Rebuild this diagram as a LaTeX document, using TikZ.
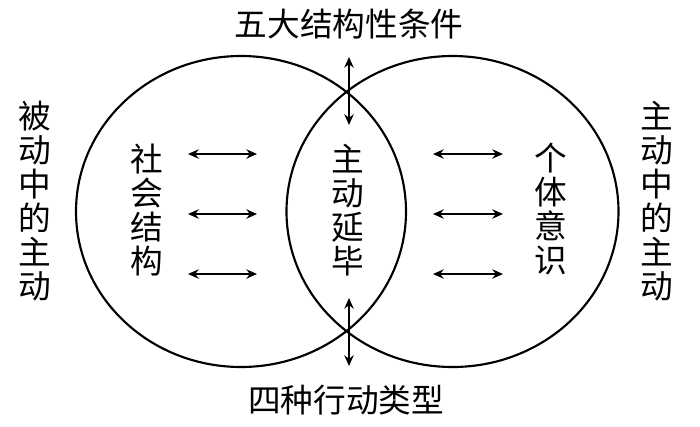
\documentclass[tikz,border=0pt]{standalone}
\usepackage{fontspec}
\newfontfamily\cjk{Noto Sans CJK SC}
\usetikzlibrary{arrows.meta}
\tikzset{
  ring/.style={draw=black, line width=1.6pt},
  lbl/.style={font=\cjk\fontsize{24.5}{25.5}\selectfont, inner sep=0pt, align=center, text=black},
  dbl/.style={{Stealth[length=8pt,width=7pt]}-{Stealth[length=8pt,width=7pt]}, line width=1.4pt}
}
\begin{document}
\begin{tikzpicture}[x=0.75pt, y=-0.75pt]
\useasboundingbox (0,0) rectangle (700,426);
% circles
\draw[ring] (241,211.5) ellipse [x radius=165, y radius=155.5];
\draw[ring] (452.5,211.5) ellipse [x radius=166, y radius=155.5];
% texts
\node[lbl] (top) at (349,24) {五大结构性条件};
\node[lbl] (bot) at (346,400) {四种行动类型};
\node[lbl] (lout) at (35,201) {被\\动\\中\\的\\主\\动};
\node[lbl] (rout) at (657,201) {主\\动\\中\\的\\主\\动};
\node[lbl] (soc) at (147,210) {社\\会\\结\\构};
\node[lbl] (mid) at (348,210) {主\\动\\延\\毕};
\node[lbl] (ind) at (551,209) {个\\体\\意\\识};
% arrow end coordinates
\coordinate (t1) at (349,57); \coordinate (t2) at (349,125);
\coordinate (b1) at (349,298); \coordinate (b2) at (349,366);
\foreach \i/\yy in {1/154,2/214,3/274}{
  \coordinate (la\i) at (188,\yy); \coordinate (lb\i) at (257,\yy);
  \coordinate (ra\i) at (433,\yy); \coordinate (rb\i) at (503,\yy);
  \draw[dbl] (la\i) -- (lb\i);
  \draw[dbl] (ra\i) -- (rb\i);
}
\draw[dbl] (t1) -- (t2);
\draw[dbl] (b1) -- (b2);
\end{tikzpicture}
\end{document}
